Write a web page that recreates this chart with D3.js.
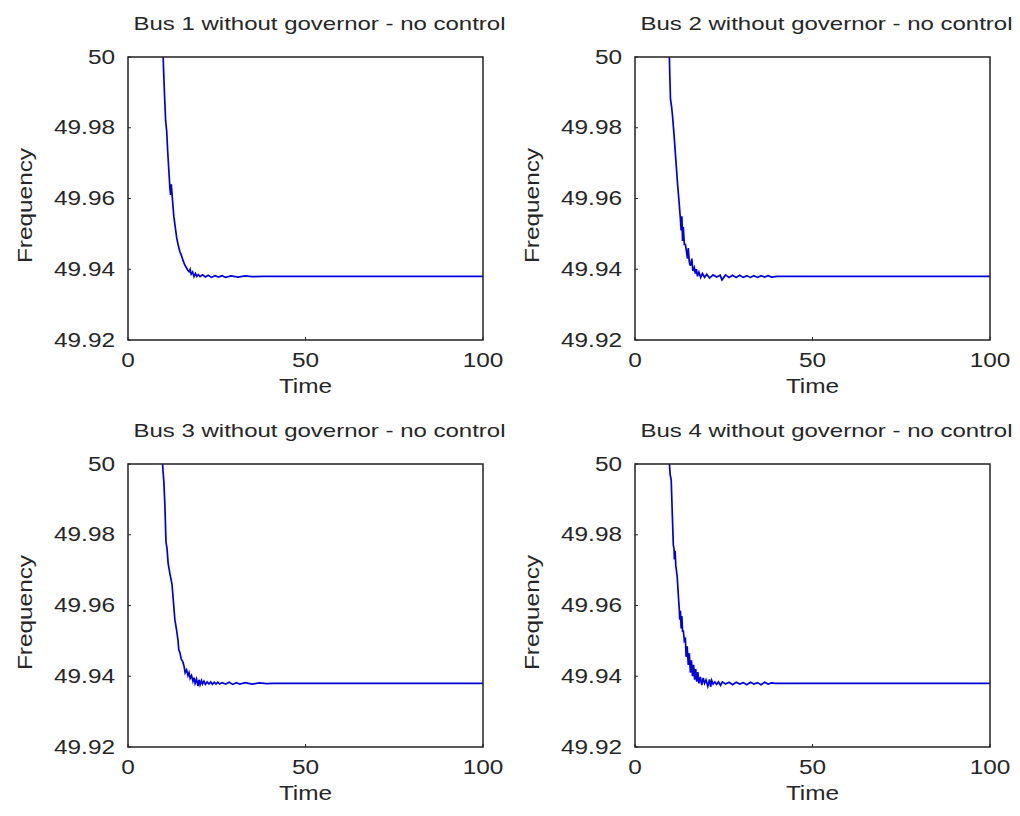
<!DOCTYPE html>
<html lang="en">
  <head>
    <meta charset="UTF-8" />
    <title>Bus frequency without governor</title>
    <script src="https://d3js.org/d3.v7.min.js"></script>
    <style>
      body {
        margin: 0;
        background: #fff;
      }
      text {
        font-family: "Liberation Sans", Arial, sans-serif;
        fill: #262626;
      }
    </style>
  </head>
  <body>
    <script>
      // axis ticks
      const xTicks = [0, 50, 100];
      const yTicks = [49.92, 49.94, 49.96, 49.98, 50];

      const titles = [
        "Bus 1 without governor - no control",
        "Bus 2 without governor - no control",
        "Bus 3 without governor - no control",
        "Bus 4 without governor - no control",
      ];

      // [time, frequency]
      const bus1 = [
        [9.8, 50.004], [10.0, 49.997], [10.3, 49.989], [10.6, 49.982], [10.9, 49.979],
        [11.2, 49.973], [11.5, 49.968], [11.8, 49.963], [12.0, 49.961], [12.2, 49.964],
        [12.5, 49.96], [12.9, 49.955], [13.3, 49.952], [13.7, 49.949], [14.1, 49.947],
        [14.6, 49.945], [15.0, 49.944], [15.5, 49.9425], [16.0, 49.9412], [16.4, 49.9405],
        [16.8, 49.9398], [17.2, 49.9393], [17.5, 49.94], [17.8, 49.9386], [18.2, 49.9392],
        [18.6, 49.9379], [19.0, 49.9388], [19.4, 49.938], [19.8, 49.9385], [20.3, 49.9379],
        [21.0, 49.9384], [21.8, 49.9378], [22.6, 49.9383], [23.5, 49.9377], [24.5, 49.9382],
        [25.5, 49.9378], [26.5, 49.9382], [27.5, 49.9377], [29.0, 49.9381], [31.0, 49.9378],
        [33.0, 49.9381], [35.0, 49.9379], [38.0, 49.938], [100, 49.938],
      ];

      const bus2 = [
        [9.6, 50.004], [9.8, 49.995], [10.0, 49.988], [10.3, 49.986], [10.6, 49.983],
        [11.0, 49.978], [11.5, 49.971], [12.0, 49.964], [12.5, 49.958], [12.8, 49.954],
        [13.0, 49.951], [13.2, 49.955], [13.4, 49.948], [13.6, 49.952], [13.9, 49.947],
        [14.2, 49.947], [14.5, 49.945], [14.8, 49.943], [15.0, 49.946], [15.3, 49.942],
        [15.6, 49.941], [16.0, 49.943], [16.3, 49.9395], [16.7, 49.9405], [17.0, 49.9388],
        [17.3, 49.94], [17.6, 49.938], [18.0, 49.9392], [18.5, 49.9377], [19.0, 49.9388],
        [19.6, 49.9377], [20.2, 49.9386], [21.0, 49.9375], [22.0, 49.9384], [23.0, 49.9378],
        [24.0, 49.9383], [24.5, 49.937], [25.5, 49.9384], [26.5, 49.9377], [27.5, 49.9383],
        [28.5, 49.9377], [29.5, 49.9383], [30.5, 49.9377], [31.5, 49.9382], [32.5, 49.9377],
        [33.5, 49.9382], [34.5, 49.9377], [35.5, 49.9382], [36.5, 49.9378], [37.5, 49.9382],
        [38.5, 49.9378], [40.0, 49.938], [100, 49.938],
      ];

      const bus3 = [
        [9.6, 50.004], [9.8, 49.999], [10.1, 49.995], [10.4, 49.988], [10.7, 49.978],
        [11.0, 49.976], [11.3, 49.972], [11.8, 49.969], [12.4, 49.966], [12.8, 49.961],
        [13.2, 49.956], [13.7, 49.953], [14.1, 49.95], [14.3, 49.9475], [14.6, 49.9468],
        [15.0, 49.9448], [15.4, 49.9442], [15.8, 49.9428], [16.1, 49.941], [16.5, 49.9418],
        [16.9, 49.9402], [17.2, 49.941], [17.5, 49.9394], [17.9, 49.9402], [18.3, 49.9386],
        [18.6, 49.9396], [18.9, 49.938], [19.3, 49.9392], [19.7, 49.9372], [20.0, 49.939],
        [20.3, 49.9376], [20.7, 49.9388], [21.0, 49.9378], [21.4, 49.9386], [21.8, 49.9377],
        [22.3, 49.9384], [22.8, 49.9378], [23.3, 49.9384], [23.8, 49.9377], [24.3, 49.9383],
        [24.8, 49.9378], [25.3, 49.9383], [25.8, 49.9378], [26.5, 49.9382], [27.5, 49.9378],
        [28.5, 49.9383], [29.5, 49.9377], [30.5, 49.9382], [31.5, 49.9378], [33.0, 49.9382],
        [35.0, 49.9378], [37.0, 49.9381], [39.0, 49.9379], [41.0, 49.938], [100, 49.938],
      ];

      const bus4 = [
        [9.5, 50.004], [9.7, 50.0], [9.9, 49.997], [10.2, 49.9955], [10.5, 49.986],
        [10.8, 49.977], [11.0, 49.976], [11.1, 49.973], [11.3, 49.9755], [11.5, 49.9712],
        [11.6, 49.9705], [11.9, 49.968], [12.2, 49.963], [12.5, 49.9585], [12.6, 49.956],
        [12.8, 49.9585], [13.0, 49.9535], [13.2, 49.957], [13.4, 49.9525], [13.6, 49.953],
        [13.9, 49.95], [14.2, 49.9505], [14.4, 49.9455], [14.7, 49.9485], [15.0, 49.9432],
        [15.3, 49.9465], [15.6, 49.941], [15.9, 49.9445], [16.2, 49.94], [16.5, 49.9432],
        [16.8, 49.939], [17.1, 49.942], [17.4, 49.9385], [17.7, 49.9412], [18.0, 49.938],
        [18.4, 49.9398], [18.8, 49.9375], [19.2, 49.9395], [19.6, 49.938], [20.0, 49.939],
        [20.5, 49.9372], [21.0, 49.9391], [21.3, 49.937], [21.6, 49.9388], [22.0, 49.9378],
        [22.5, 49.9384], [23.0, 49.9377], [23.5, 49.9384], [24.1, 49.9374], [24.6, 49.9384],
        [25.5, 49.9378], [26.5, 49.9383], [27.5, 49.9376], [28.5, 49.9383], [29.5, 49.9378],
        [30.5, 49.9382], [31.5, 49.9376], [32.5, 49.9383], [33.5, 49.9378], [34.5, 49.9382],
        [35.5, 49.9376], [36.5, 49.9383], [37.5, 49.9378], [38.5, 49.9381], [39.5, 49.938],
        [100, 49.938],
      ];

      const series = [bus1, bus2, bus3, bus4];

      const width = 1020;
      const height = 816;
      const plotW = 355;
      const plotH = 283;
      const origins = [
        [128, 57],
        [635, 57],
        [128, 464],
        [635, 464],
      ];
      const stretch = 1.25; // text in the picture is wider than it is tall

      const svg = d3
        .select("body")
        .append("svg")
        .attr("width", width)
        .attr("height", height);

      // put a piece of stretched text at (x, y)
      function label(g, x, y, str, size, anchor, rotate) {
        let tr = `translate(${x},${y})`;
        // a rotated label is stretched along the page's x as well
        tr += rotate ? ` scale(1,${stretch}) rotate(${rotate})` : ` scale(${stretch},1)`;
        return g
          .append("text")
          .attr("transform", tr)
          .attr("text-anchor", anchor)
          .attr("dominant-baseline", "central")
          .style("font-size", size + "px")
          .text(str);
      }

      series.forEach((data, i) => {
        const [ox, oy] = origins[i];
        const g = svg.append("g").attr("transform", `translate(${ox},${oy})`);

        const x = d3.scaleLinear().domain([0, 100]).range([0, plotW]);
        const y = d3.scaleLinear().domain([49.92, 50]).range([plotH, 0]);

        g.append("clipPath")
          .attr("id", "clip" + i)
          .append("rect")
          .attr("width", plotW)
          .attr("height", plotH);

        const line = d3
          .line()
          .x((d) => x(d[0]))
          .y((d) => y(d[1]));

        g.append("path")
          .datum(data)
          .attr("clip-path", `url(#clip${i})`)
          .attr("d", line)
          .attr("fill", "none")
          .attr("stroke", "#0000dd")
          .attr("stroke-width", 1.7);

        // tick marks, inside the box
        g.selectAll(".yt")
          .data(yTicks)
          .join("line")
          .attr("x1", 0)
          .attr("x2", 3)
          .attr("y1", (d) => y(d))
          .attr("y2", (d) => y(d))
          .attr("stroke", "#222");

        g.selectAll(".xt")
          .data(xTicks)
          .join("line")
          .attr("x1", (d) => x(d))
          .attr("x2", (d) => x(d))
          .attr("y1", plotH)
          .attr("y2", plotH - 3)
          .attr("stroke", "#222");

        g.append("rect")
          .attr("width", plotW)
          .attr("height", plotH)
          .attr("fill", "none")
          .attr("stroke", "#222")
          .attr("stroke-width", 1.5);

        yTicks.forEach((v) => {
          label(g, -13, y(v), d3.format(".2~f")(v), 19.5, "end");
        });
        xTicks.forEach((v) => {
          label(g, x(v), plotH + 20, v, 19.5, "middle");
        });

        label(g, plotW / 2, plotH + 46, "Time", 19.5, "middle");
        label(g, -103, plotH / 2 + 7, "Frequency", 19.5, "middle", -90);
        label(g, plotW / 2 + 14, -34, titles[i], 19.2, "middle");
      });
    </script>
  </body>
</html>
